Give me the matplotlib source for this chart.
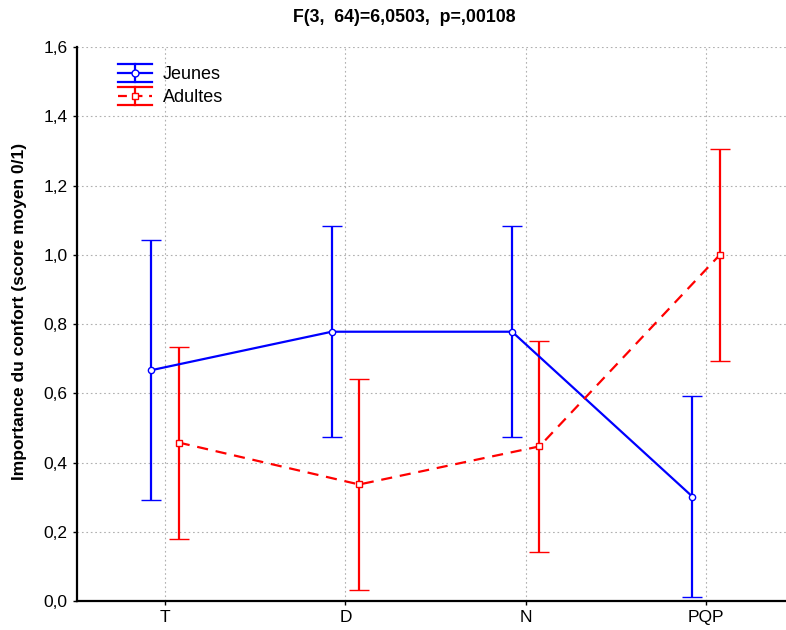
import matplotlib
matplotlib.use("Agg")
import matplotlib.pyplot as plt
from matplotlib.legend_handler import HandlerBase
from matplotlib.lines import Line2D
import numpy as np

plt.rcParams["font.family"] = ["Liberation Sans", "DejaVu Sans"]

categories = ["T", "D", "N", "PQP"]
jeunes_mean = [0.667, 0.778, 0.778, 0.302]
jeunes_err = [0.375, 0.305, 0.305, 0.290]
adultes_mean = [0.458, 0.337, 0.447, 1.000]
adultes_err = [0.277, 0.305, 0.305, 0.306]


class HandlerWideErr(HandlerBase):
    # legend handle: line + marker, vertical bar and wide caps (Statistica style)
    def __init__(self, color, marker, ls):
        super().__init__()
        self.color, self.marker, self.ls = color, marker, ls

    def create_artists(self, legend, orig_handle, xdescent, ydescent,
                       width, height, fontsize, trans):
        xm = -xdescent + width / 2
        ym = -ydescent + height / 2
        x0, x1 = -xdescent, -xdescent + width
        d = 0.5 * fontsize
        arts = [
            Line2D([x0, x1], [ym, ym], color=self.color, lw=1.6, ls=self.ls),
            Line2D([x0, x1], [ym + d, ym + d], color=self.color, lw=1.6),
            Line2D([x0, x1], [ym - d, ym - d], color=self.color, lw=1.6),
            Line2D([xm, xm], [ym - d, ym + d], color=self.color, lw=1.6),
            Line2D([xm], [ym], marker=self.marker, ms=5, mfc="white",
                   mec=self.color, mew=1, ls="none"),
        ]
        for a in arts:
            a.set_transform(trans)
        return arts


fig = plt.figure(figsize=(7.86, 6.3), dpi=100)
ax = fig.add_axes([0.0976, 0.0457, 0.9024, 0.8797])

x = np.arange(len(categories))
off = 0.076

h1 = ax.errorbar(x - off, jeunes_mean, yerr=jeunes_err, color="#0000ff", lw=1.6,
                 elinewidth=1.6, capsize=7, capthick=1.6, marker="o", ms=4.5,
                 mfc="white", mec="#0000ff", mew=1, zorder=3)
h2 = ax.errorbar(x + off, adultes_mean, yerr=adultes_err, color="#ff0000", lw=1.6,
                 elinewidth=1.6, capsize=7, capthick=1.6, marker="s", ms=4.5,
                 mfc="white", mec="#ff0000", mew=1, ls=(0, (5, 3.5)), zorder=3)

ax.set_xlim(-0.49, 3.443)
ax.set_ylim(0, 1.6)
ax.set_xticks(x)
ax.set_xticklabels(categories)
yt = np.arange(0, 1.61, 0.2)
ax.set_yticks(yt)
ax.set_yticklabels([f"{v:.1f}".replace(".", ",") for v in yt])
ax.tick_params(labelsize=12.5, length=3, width=1, direction="out")
ax.grid(True, color="#b0b0b0", ls=(0, (1.5, 2.5)), lw=0.8)
ax.set_axisbelow(True)
for s in ["top", "right"]:
    ax.spines[s].set_visible(False)
for s in ["left", "bottom"]:
    ax.spines[s].set_linewidth(1.6)

fig.text(20 / 786, 1 - 311 / 630, "Importance du confort (score moyen 0/1)",
         rotation=90, ha="center", va="center", fontsize=12.5, fontweight="bold")
fig.text(0.514, 1 - 17 / 630, "F(3,  64)=6,0503,  p=,00108", ha="center",
         va="center", fontsize=12.8, fontweight="bold")

p1 = Line2D([], [])
p2 = Line2D([], [])
ax.legend([p1, p2], ["Jeunes", "Adultes"], loc="upper left",
          bbox_to_anchor=(0.035, 0.995), frameon=False, fontsize=13,
          handlelength=1.9, handletextpad=0.6, labelspacing=0.35,
          handler_map={p1: HandlerWideErr("#0000ff", "o", "-"),
                       p2: HandlerWideErr("#ff0000", "s", (0, (4, 3)))})

fig.savefig("out.png", dpi=100)
